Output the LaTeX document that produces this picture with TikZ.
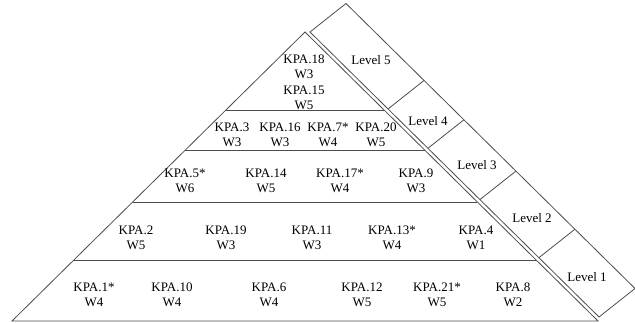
\documentclass[tikz,border=0pt]{standalone}
\usepackage{fontspec}
\setmainfont{Liberation Serif}
\usetikzlibrary{calc}
\tikzset{
	kpa/.style={align=center,inner sep=0,font=\fontsize{13}{15}\selectfont},
	lvl/.style={inner sep=0,font=\fontsize{13}{15}\selectfont},
	edge/.style={draw=black!70,line width=0.8pt}
}

\begin{document}
\begin{tikzpicture}[x=1pt,y=-1pt]
	\useasboundingbox (0,0) rectangle (635,322);
	\coordinate (a) at (305,32);
	\coordinate (bl) at (12,321);
	\coordinate (br) at (598,321);
	\coordinate (ti) at (310,32);
	\coordinate (bi) at (599,317);
	\coordinate (to) at (346,3.5);
	\coordinate (bo) at (635,288.5);
	\draw[edge] (a) -- (bl) -- (br) -- cycle;
	\draw[edge] (ti) -- (to) -- (bo) -- (bi) -- cycle;
	\foreach \t in {0.27,0.408,0.588,0.792} {
		\draw[edge] ($(a)!\t!(bl)$) -- ($(a)!\t!(br)$);
		\draw[edge] ($(ti)!\t!(bi)$) -- ($(to)!\t!(bo)$);
	}
	\node[kpa] (k18) at (304,67) {KPA.18\\W3};
	\node[kpa] (k15) at (304,98) {KPA.15\\W5};
	\node[kpa] (k3) at (232,135) {KPA.3\\W3};
	\node[kpa] (k16) at (280,135) {KPA.16\\W3};
	\node[kpa] (k7) at (328,135) {KPA.7*\\W4};
	\node[kpa] (k20) at (376,135) {KPA.20\\W5};
	\node[kpa] (k5) at (185,181) {KPA.5*\\W6};
	\node[kpa] (k14) at (266,181) {KPA.14\\W5};
	\node[kpa] (k17) at (340,181) {KPA.17*\\W4};
	\node[kpa] (k9) at (416,181) {KPA.9\\W3};
	\node[kpa] (k2) at (136,237.5) {KPA.2\\W5};
	\node[kpa] (k19) at (226,237.5) {KPA.19\\W3};
	\node[kpa] (k11) at (312,237.5) {KPA.11\\W3};
	\node[kpa] (k13) at (392,237.5) {KPA.13*\\W4};
	\node[kpa] (k4) at (476,237.5) {KPA.4\\W1};
	\node[kpa] (k1) at (94,294.5) {KPA.1*\\W4};
	\node[kpa] (k10) at (172,294.5) {KPA.10\\W4};
	\node[kpa] (k6) at (269,294.5) {KPA.6\\W4};
	\node[kpa] (k12) at (362,294.5) {KPA.12\\W5};
	\node[kpa] (k21) at (437,294.5) {KPA.21*\\W5};
	\node[kpa] (k8) at (513,294.5) {KPA.8\\W2};
	\node[lvl] (l5) at (371,60) {Level 5};
	\node[lvl] (l4) at (428,121) {Level 4};
	\node[lvl] (l3) at (477,165) {Level 3};
	\node[lvl] (l2) at (532,218) {Level 2};
	\node[lvl] (l1) at (587,277) {Level 1};
\end{tikzpicture}
\end{document}
